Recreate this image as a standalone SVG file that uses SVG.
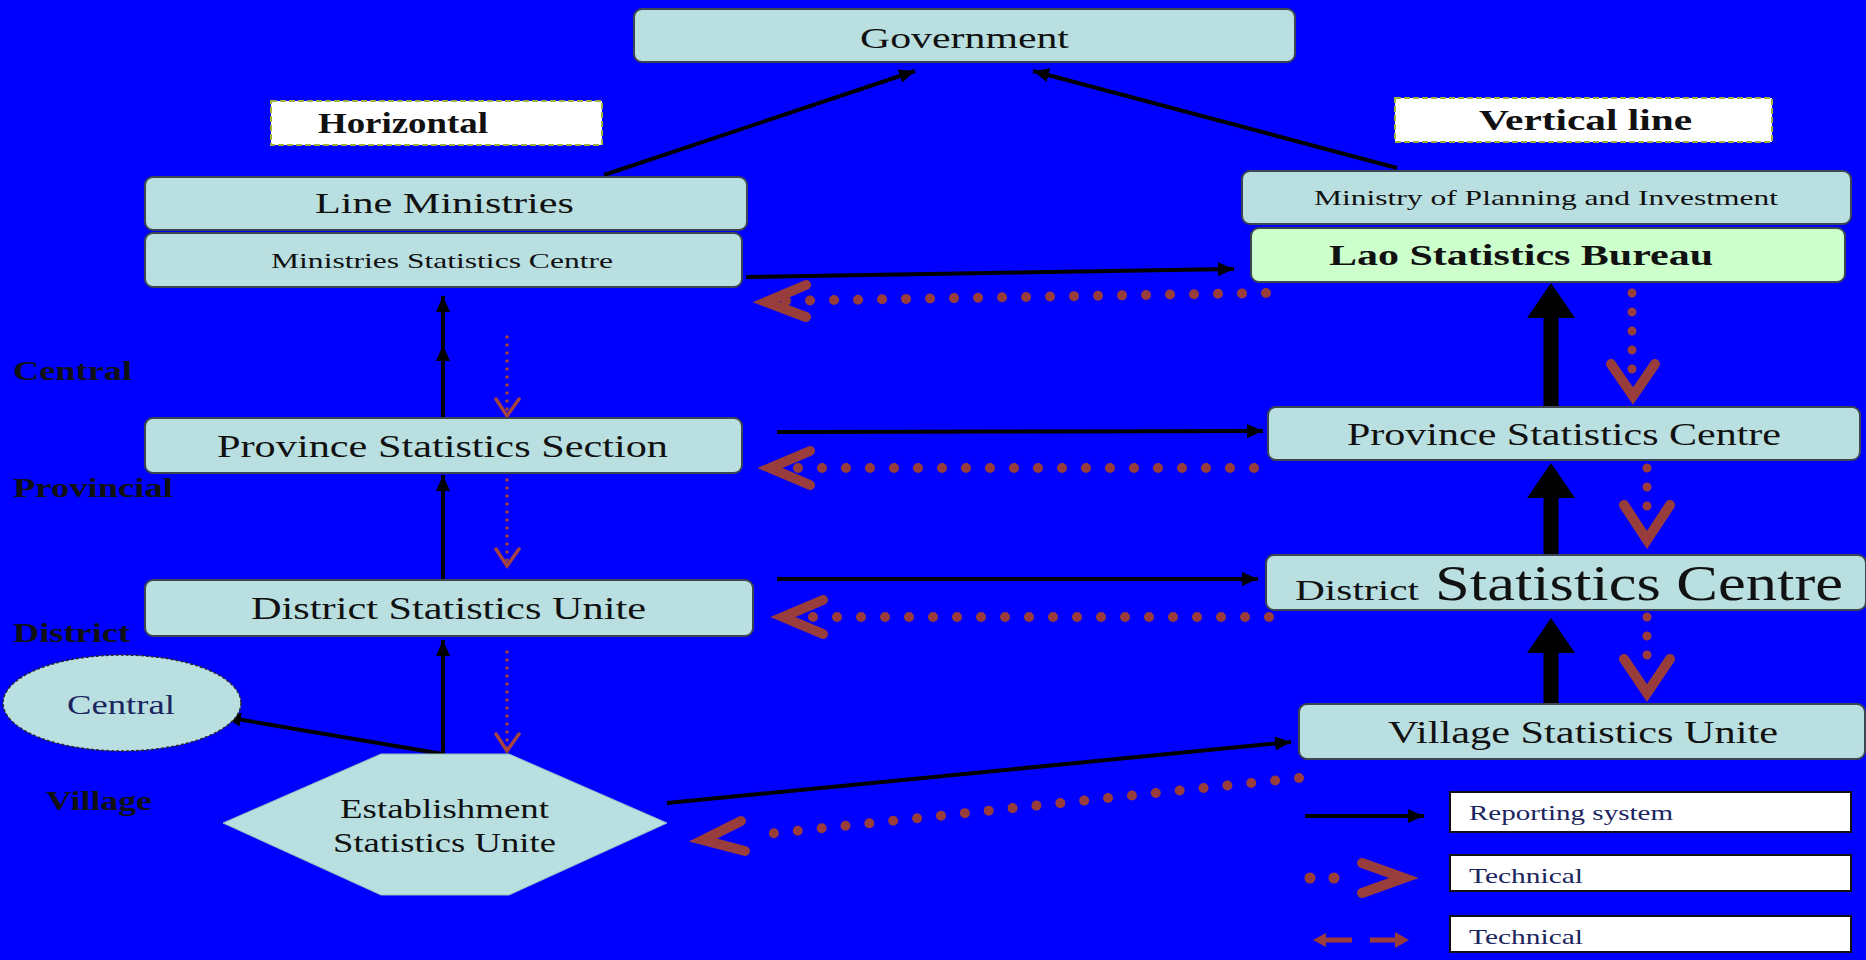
<svg xmlns="http://www.w3.org/2000/svg" width="1866" height="960" viewBox="0 0 1866 960">
<defs>
<style>
.bg{fill:#0000ff}
.box{fill:#b9dfe0;stroke:#3c4650;stroke-width:2}
.green{fill:#ccffcc;stroke:#3c4650;stroke-width:2}
.lbl{fill:#ffffff;stroke:#a0b040;stroke-width:2;stroke-dasharray:6 3}
.leg{fill:#ffffff;stroke:#111111;stroke-width:2}
text{font-family:"Liberation Serif","Times New Roman",serif;fill:#111111}
.b{font-weight:bold}
.navy{fill:#1a2560}
.rep{stroke:#000000;stroke-width:4;fill:none}
.thick{stroke:#000000;stroke-width:15;fill:none}
.dots{stroke:#983c3c;stroke-width:10;stroke-linecap:round;stroke-dasharray:0 24;fill:none}
.vdots{stroke:#983c3c;stroke-width:9;stroke-linecap:round;stroke-dasharray:0 19;fill:none}
.sdots{stroke:#a5443f;stroke-width:3.5;stroke-linecap:round;stroke-dasharray:0 8;fill:none}
.chev{stroke:#983c3c;stroke-width:10;stroke-linecap:round;stroke-linejoin:miter;fill:none}
.schev{stroke:#a5443f;stroke-width:3.5;stroke-linecap:round;fill:none}
.head{fill:#000000}
</style>
<marker id="ah" markerUnits="userSpaceOnUse" markerWidth="18" markerHeight="14" refX="16" refY="7" orient="auto">
<path d="M0,0 L16,7 L0,14 Z" fill="#000000"/>
</marker>
</defs>
<rect class="bg" x="0" y="0" width="1866" height="960"/>

<g id="connectors">
<line class="rep" x1="604" y1="175" x2="915" y2="71" marker-end="url(#ah)"/>
<line class="rep" x1="1397" y1="168" x2="1033" y2="71" marker-end="url(#ah)"/>
<line class="rep" x1="746" y1="277" x2="1234" y2="269" marker-end="url(#ah)"/>
<line class="rep" x1="443" y1="418" x2="443" y2="296" marker-end="url(#ah)"/>
<line class="rep" x1="443" y1="418" x2="443" y2="345" marker-end="url(#ah)"/>
<line class="rep" x1="443" y1="580" x2="443" y2="475" marker-end="url(#ah)"/>
<line class="rep" x1="443" y1="754" x2="443" y2="640" marker-end="url(#ah)"/>
<line class="rep" x1="443" y1="754" x2="225" y2="717" marker-end="url(#ah)"/>
<line class="rep" x1="777" y1="432" x2="1263" y2="431" marker-end="url(#ah)"/>
<line class="rep" x1="777" y1="579" x2="1258" y2="579" marker-end="url(#ah)"/>
<line class="rep" x1="667" y1="803" x2="1291" y2="742" marker-end="url(#ah)"/>
<line class="thick" x1="1551" y1="407" x2="1551" y2="315"/>
<path class="head" d="M1527,318 L1551,283 L1575,318 Z"/>
<line class="thick" x1="1551" y1="555" x2="1551" y2="495"/>
<path class="head" d="M1527,498 L1551,463 L1575,498 Z"/>
<line class="thick" x1="1551" y1="704" x2="1551" y2="650"/>
<path class="head" d="M1527,653 L1551,618 L1575,653 Z"/>
<line class="dots" x1="1266" y1="293" x2="778" y2="301"/>
<path class="chev" d="M806,285 L766,302 L806,317"/>
<line class="dots" x1="1254" y1="468" x2="790" y2="468"/>
<path class="chev" d="M810,451 L770,468 L810,485"/>
<line class="dots" x1="1269" y1="617" x2="795" y2="617"/>
<path class="chev" d="M823,600 L783,617 L823,634"/>
<line class="dots" x1="1299" y1="778" x2="757" y2="835"/>
<path class="chev" d="M741,821 L703,840 L745,851"/>
<line class="vdots" x1="1632" y1="293" x2="1632" y2="370"/>
<path class="chev" d="M1611,364 L1633,396 L1655,364"/>
<line class="vdots" x1="1647" y1="468" x2="1647" y2="525"/>
<path class="chev" d="M1624,505 L1647,540 L1670,505"/>
<line class="vdots" x1="1647" y1="617" x2="1647" y2="674"/>
<path class="chev" d="M1624,659 L1647,693 L1670,659"/>
<line class="sdots" x1="507" y1="337" x2="507" y2="415"/>
<path class="schev" d="M496,399 L507,416 L519,399"/>
<line class="sdots" x1="507" y1="480" x2="507" y2="565"/>
<path class="schev" d="M496,549 L507,566 L519,549"/>
<line class="sdots" x1="507" y1="652" x2="507" y2="750"/>
<path class="schev" d="M496,734 L507,751 L519,734"/>
</g>

<g id="government">
<rect class="box" x="634" y="9" width="661" height="53" rx="8"/>
<text x="860" y="48" font-size="30" textLength="209" lengthAdjust="spacingAndGlyphs">Government</text>
</g>
<g id="label-horizontal">
<rect class="lbl" x="271" y="101" width="331" height="44"/>
<text class="b" x="318" y="133" font-size="29" textLength="170" lengthAdjust="spacingAndGlyphs">Horizontal</text>
</g>
<g id="label-vertical">
<rect class="lbl" x="1395" y="98" width="377" height="44"/>
<text class="b" x="1479" y="130" font-size="29" textLength="213" lengthAdjust="spacingAndGlyphs">Vertical line</text>
</g>
<g id="line-ministries">
<rect class="box" x="145" y="177" width="602" height="53" rx="8"/>
<text x="315" y="213" font-size="30" textLength="259" lengthAdjust="spacingAndGlyphs">Line Ministries</text>
</g>
<g id="ministries-statistics-centre">
<rect class="box" x="145" y="233" width="597" height="54" rx="8"/>
<text x="271" y="268" font-size="22" textLength="342" lengthAdjust="spacingAndGlyphs">Ministries Statistics Centre</text>
</g>
<g id="ministry-planning">
<rect class="box" x="1242" y="171" width="609" height="53" rx="8"/>
<text x="1314" y="205" font-size="22" textLength="464" lengthAdjust="spacingAndGlyphs">Ministry of Planning and Investment</text>
</g>
<g id="lao-statistics-bureau">
<rect class="green" x="1251" y="228" width="594" height="54" rx="8"/>
<text class="b" x="1329" y="265" font-size="30" textLength="384" lengthAdjust="spacingAndGlyphs">Lao Statistics Bureau</text>
</g>
<g id="province-statistics-section">
<rect class="box" x="145" y="418" width="597" height="55" rx="8"/>
<text x="217" y="457" font-size="31" textLength="451" lengthAdjust="spacingAndGlyphs">Province Statistics Section</text>
</g>
<g id="province-statistics-centre">
<rect class="box" x="1268" y="407" width="592" height="53" rx="8"/>
<text x="1347" y="445" font-size="31" textLength="434" lengthAdjust="spacingAndGlyphs">Province Statistics Centre</text>
</g>
<g id="district-statistics-unite">
<rect class="box" x="145" y="580" width="608" height="56" rx="8"/>
<text x="251" y="619" font-size="31" textLength="395" lengthAdjust="spacingAndGlyphs">District Statistics Unite</text>
</g>
<g id="district-statistics-centre">
<rect class="box" x="1266" y="555" width="600" height="55" rx="8"/>
<text x="1295" y="600" font-size="29" textLength="124" lengthAdjust="spacingAndGlyphs">District</text>
<text x="1435" y="600" font-size="50" textLength="408" lengthAdjust="spacingAndGlyphs">Statistics Centre</text>
</g>
<g id="village-statistics-unite">
<rect class="box" x="1299" y="704" width="566" height="55" rx="8"/>
<text x="1388" y="743" font-size="31" textLength="390" lengthAdjust="spacingAndGlyphs">Village Statistics Unite</text>
</g>
<g id="central-ellipse">
<ellipse cx="122" cy="703" rx="119" ry="48" fill="#b9dfe0" stroke="#2a2a2a" stroke-width="1.5" stroke-dasharray="3 2"/>
<text class="navy" x="67" y="714" font-size="27" textLength="108" lengthAdjust="spacingAndGlyphs">Central</text>
</g>
<g id="establishment-statistics-unite">
<polygon points="381,754 509,754 667,823 509,895 381,895 223,823" fill="#b9dfe0" stroke="#8fbcc0" stroke-width="1"/>
<text x="340" y="818" font-size="27" textLength="209" lengthAdjust="spacingAndGlyphs">Establishment</text>
<text x="333" y="852" font-size="27" textLength="223" lengthAdjust="spacingAndGlyphs">Statistics Unite</text>
</g>
<g id="level-labels">
<text class="b" x="13" y="380" font-size="27" textLength="119" lengthAdjust="spacingAndGlyphs">Central</text>
<text class="b" x="13" y="497" font-size="27" textLength="160" lengthAdjust="spacingAndGlyphs">Provincial</text>
<text class="b" x="13" y="642" font-size="27" textLength="117" lengthAdjust="spacingAndGlyphs">District</text>
<text class="b" x="46" y="810" font-size="27" textLength="106" lengthAdjust="spacingAndGlyphs">Village</text>
</g>
<g id="legend">
<line class="rep" x1="1305" y1="816" x2="1424" y2="816" marker-end="url(#ah)"/>
<rect class="leg" x="1450" y="792" width="401" height="40"/>
<text class="navy" x="1469" y="820" font-size="22" textLength="204" lengthAdjust="spacingAndGlyphs">Reporting system</text>
<line x1="1310" y1="878" x2="1340" y2="878" stroke="#983c3c" stroke-width="11" stroke-linecap="round" stroke-dasharray="0 24"/>
<path class="chev" d="M1362,863 L1404,878 L1362,893" stroke-width="12"/>
<rect class="leg" x="1450" y="855" width="401" height="36"/>
<text class="navy" x="1469" y="883" font-size="22" textLength="114" lengthAdjust="spacingAndGlyphs">Technical</text>
<line x1="1322" y1="940" x2="1352" y2="940" stroke="#983c3c" stroke-width="5"/>
<path d="M1313,940 L1326,933 L1326,947 Z" fill="#983c3c"/>
<line x1="1370" y1="940" x2="1398" y2="940" stroke="#983c3c" stroke-width="5"/>
<path d="M1409,940 L1395,932 L1395,948 Z" fill="#983c3c"/>
<rect class="leg" x="1450" y="916" width="401" height="36"/>
<text class="navy" x="1469" y="944" font-size="22" textLength="114" lengthAdjust="spacingAndGlyphs">Technical</text>
</g>
</svg>
